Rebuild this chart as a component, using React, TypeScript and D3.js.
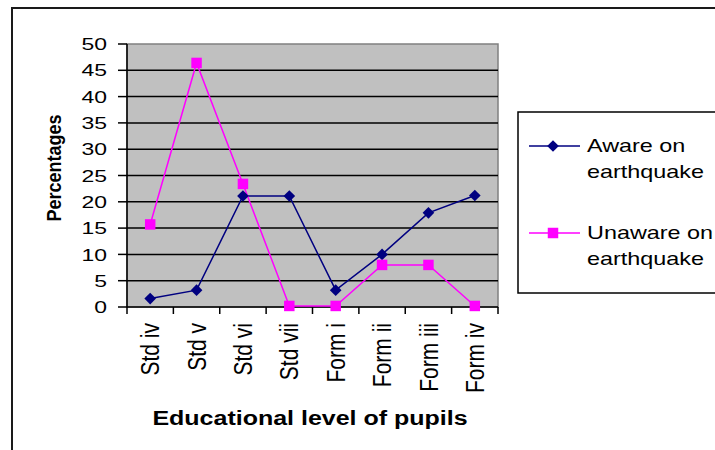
import React from 'react'
import * as d3 from 'd3'

const categories = ['Std iv', 'Std v', 'Std vi', 'Std vii', 'Form i', 'Form ii', 'Form iii', 'Form iv']
const aware = [1.6, 3.2, 21.1, 21.1, 3.2, 10, 17.9, 21.2]
const unaware = [15.7, 46.4, 23.4, 0.2, 0.2, 8, 8, 0.2]
const yTicks = [0, 5, 10, 15, 20, 25, 30, 35, 40, 45, 50]
const seriesNames = [['Aware on', 'earthquake'], ['Unaware on', 'earthquake']]

const NAVY = '#000080'
const MAGENTA = '#ff00ff'
const FONT = 'Arial, "Liberation Sans", sans-serif'

// plot box
const plot = { left: 127, top: 44, right: 498, bottom: 307 }

export default function App() {
  const x = d3.scaleBand<string>()
    .domain(categories)
    .range([plot.left, plot.right])
  const y = d3.scaleLinear()
    .domain([0, 50])
    .range([plot.bottom, plot.top])

  const cx = (c: string) => (x(c) as number) + x.bandwidth() / 2
  const line = d3.line<number>()
    .x((d, i) => cx(categories[i]))
    .y(d => y(d))

  const diamond = d3.symbol().type(d3.symbolSquare).size(68)()
  const square = d3.symbol().type(d3.symbolSquare).size(110)()

  const bounds = categories.map(c => x(c) as number).concat([plot.right])

  // legend rows
  const legend = [
    { y: 146, color: NAVY, marker: diamond, rot: 45, lines: seriesNames[0] },
    { y: 233, color: MAGENTA, marker: square, rot: 0, lines: seriesNames[1] },
  ]

  return (
    <svg width={715} height={450} style={{ position: 'absolute', left: 0, top: 0 }} fontFamily={FONT}>
      <rect x={0} y={0} width={715} height={450} fill="#fff" />
      {/* outer chart border, runs past right and bottom edges */}
      <rect x={12} y={8} width={720} height={460} fill="none" stroke="#1a1a1a" strokeWidth={2} />

      {/* plot area */}
      <rect x={plot.left} y={plot.top} width={plot.right - plot.left} height={plot.bottom - plot.top}
        fill="#c0c0c0" stroke="#808080" strokeWidth={1.5} />
      {yTicks.filter(t => t > 0 && t < 50).map(t => (
        <line key={t} x1={plot.left} x2={plot.right} y1={y(t)} y2={y(t)} stroke="#000" strokeWidth={1.5} />
      ))}

      {/* y axis */}
      <line x1={plot.left} x2={plot.left} y1={plot.top} y2={plot.bottom} stroke="#000" strokeWidth={1.5} />
      {yTicks.map(t => (
        <g key={t}>
          <line x1={plot.left - 9} x2={plot.left} y1={y(t)} y2={y(t)} stroke="#000" strokeWidth={1.5} />
          <text transform={`translate(107, ${y(t)}) scale(1.35, 1)`} textAnchor="end" dy="0.36em"
            fontSize={17} fill="#000">{t}</text>
        </g>
      ))}
      <text transform="translate(54, 168) scale(1.15, 1) rotate(-90)" textAnchor="middle" dy="0.35em"
        fontSize={18} fontWeight="bold" fill="#000">Percentages</text>

      {/* x axis */}
      <line x1={plot.left} x2={plot.right} y1={plot.bottom} y2={plot.bottom} stroke="#000" strokeWidth={1.5} />
      {bounds.map((b, i) => (
        <line key={i} x1={b} x2={b} y1={plot.bottom} y2={plot.bottom + 7} stroke="#000" strokeWidth={1.5} />
      ))}
      {categories.map(c => (
        <text key={c} transform={`translate(${cx(c)}, 323) scale(1.2, 1) rotate(-90)`} textAnchor="end"
          dy="0.36em" fontSize={21} fill="#000">{c}</text>
      ))}
      <text transform="translate(310, 425) scale(1.25, 1)" textAnchor="middle" fontSize={20}
        fontWeight="bold" fill="#000">Educational level of pupils</text>

      {/* series */}
      <path d={line(aware) as string} fill="none" stroke={NAVY} strokeWidth={1.5} />
      <path d={line(unaware) as string} fill="none" stroke={MAGENTA} strokeWidth={1.5} />
      {aware.map((d, i) => (
        <path key={'a' + i} d={diamond as string} fill={NAVY}
          transform={`translate(${cx(categories[i])}, ${y(d)}) rotate(45)`} />
      ))}
      {unaware.map((d, i) => (
        <path key={'u' + i} d={square as string} fill={MAGENTA}
          transform={`translate(${cx(categories[i])}, ${y(d)})`} />
      ))}

      {/* legend */}
      <rect x={518} y={112} width={220} height={181} fill="#fff" stroke="#000" strokeWidth={1.5} />
      {legend.map((l, i) => (
        <g key={i}>
          <line x1={529} x2={580} y1={l.y} y2={l.y} stroke={l.color} strokeWidth={1.5} />
          <path d={l.marker as string} fill={l.color} transform={`translate(553, ${l.y}) rotate(${l.rot})`} />
          {l.lines.map((t, j) => (
            <text key={j} transform={`translate(587, ${l.y + j * 26}) scale(1.3, 1)`} dy="0.36em"
              fontSize={18} fill="#000">{t}</text>
          ))}
        </g>
      ))}
    </svg>
  )
}
